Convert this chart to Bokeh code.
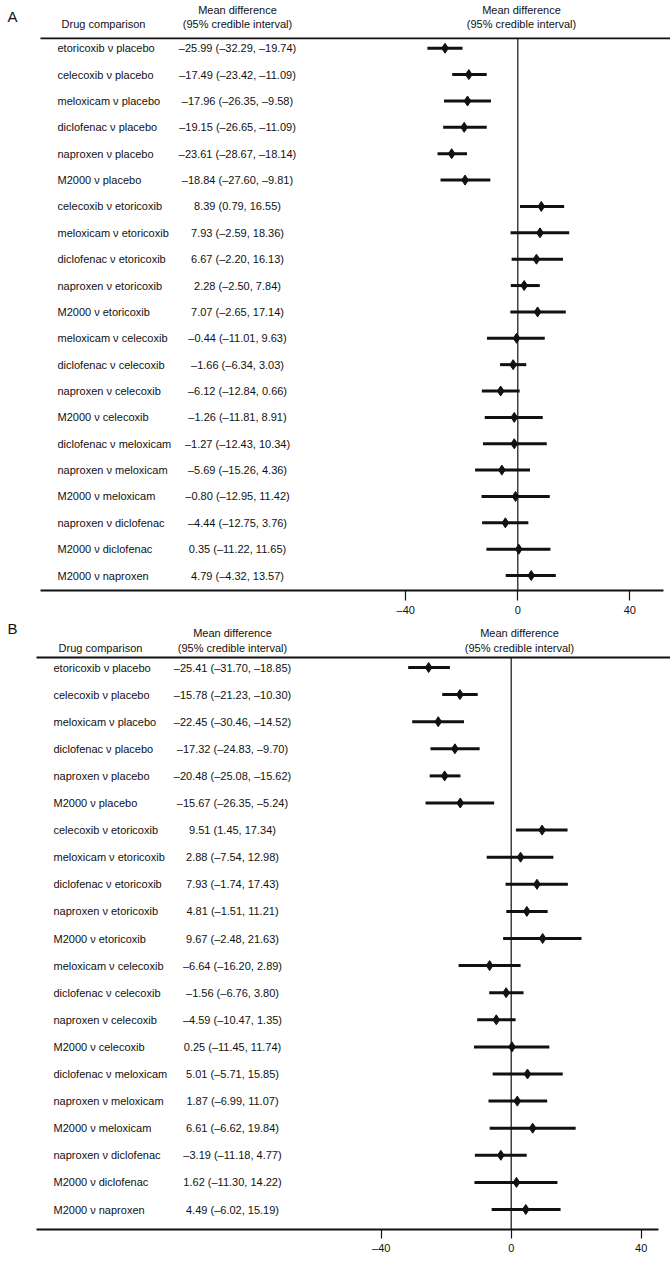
from bokeh.plotting import figure
from bokeh.models import Range1d, FixedTicker
from bokeh.layouts import column
from bokeh.embed import file_html
from bokeh.resources import INLINE
from bokeh.core.properties import value

# ---------------- data ----------------
comparisons = [
    "etoricoxib ν placebo", "celecoxib ν placebo", "meloxicam ν placebo",
    "diclofenac ν placebo", "naproxen ν placebo", "M2000 ν placebo",
    "celecoxib ν etoricoxib", "meloxicam ν etoricoxib", "diclofenac ν etoricoxib",
    "naproxen ν etoricoxib", "M2000 ν etoricoxib", "meloxicam ν celecoxib",
    "diclofenac ν celecoxib", "naproxen ν celecoxib", "M2000 ν celecoxib",
    "diclofenac ν meloxicam", "naproxen ν meloxicam", "M2000 ν meloxicam",
    "naproxen ν diclofenac", "M2000 ν diclofenac", "M2000 ν naproxen",
]

a_mean = [-25.99, -17.49, -17.96, -19.15, -23.61, -18.84, 8.39, 7.93, 6.67, 2.28, 7.07,
          -0.44, -1.66, -6.12, -1.26, -1.27, -5.69, -0.80, -4.44, 0.35, 4.79]
a_low = [-32.29, -23.42, -26.35, -26.65, -28.67, -27.60, 0.79, -2.59, -2.20, -2.50, -2.65,
         -11.01, -6.34, -12.84, -11.81, -12.43, -15.26, -12.95, -12.75, -11.22, -4.32]
a_high = [-19.74, -11.09, -9.58, -11.09, -18.14, -9.81, 16.55, 18.36, 16.13, 7.84, 17.14,
          9.63, 3.03, 0.66, 8.91, 10.34, 4.36, 11.42, 3.76, 11.65, 13.57]

b_mean = [-25.41, -15.78, -22.45, -17.32, -20.48, -15.67, 9.51, 2.88, 7.93, 4.81, 9.67,
          -6.64, -1.56, -4.59, 0.25, 5.01, 1.87, 6.61, -3.19, 1.62, 4.49]
b_low = [-31.70, -21.23, -30.46, -24.83, -25.08, -26.35, 1.45, -7.54, -1.74, -1.51, -2.48,
         -16.20, -6.76, -10.47, -11.45, -5.71, -6.99, -6.62, -11.18, -11.30, -6.02]
b_high = [-18.85, -10.30, -14.52, -9.70, -15.62, -5.24, 17.34, 12.98, 17.43, 11.21, 21.63,
          2.89, 3.80, 1.35, 11.74, 15.85, 11.07, 19.84, 4.77, 14.22, 15.19]

tick_values = [-40, 0, 40]
tick_labels = ["–40", "0", "40"]
header_comparison = "Drug comparison"
header_md = ["Mean difference", "(95% credible interval)"]
panel_letters = ["A", "B"]

FONT = "Liberation Sans"
INK = "#111111"
W = 670


def fmt(v):
    return f"{v:.2f}".replace("-", "–")


def make_panel(letter, means, lows, highs, g):
    zero, k = g["zero"], g["k"]
    row0, sp = g["row0"], g["sp"]

    def X(px):
        return (px - zero) / k

    def Y(py):
        return (py - row0) / sp

    p = figure(width=W, height=g["height"], output_backend="svg", toolbar_location=None,
               x_range=Range1d(X(0), X(W)),
               y_range=Range1d(Y(g["axis"]), Y(g["top"])),
               y_axis_location=None, min_border_left=0, min_border_right=0,
               min_border_top=0, min_border_bottom=g["mbb"],
               outline_line_color=None)
    p.grid.visible = False

    rows = list(range(len(comparisons)))
    n = len(rows)

    # header rule and zero line
    p.segment(x0=[X(g["rule_x0"])], x1=[X(W)], y0=[Y(g["rule"])], y1=[Y(g["rule"])],
              line_color=INK, line_width=1.8)
    p.segment(x0=[0], x1=[0], y0=[Y(g["rule"])], y1=[Y(g["axis"])],
              line_color=INK, line_width=1.2)

    # intervals and point estimates
    p.segment(x0=lows, x1=highs, y0=rows, y1=rows, line_color=INK, line_width=3)
    p.scatter(x=means, y=rows, marker="diamond", size=10, fill_color=INK, line_color=INK)

    # text columns
    p.text(x=[X(g["label_x"])] * n, y=rows, text=comparisons, text_font=value(FONT),
           text_font_size="11px", text_baseline="middle", text_align="left", text_color=INK)
    val_text = [f"{fmt(m)} ({fmt(lo)}, {fmt(hi)})" for m, lo, hi in zip(means, lows, highs)]
    p.text(x=[X(g["val_x"])] * n, y=rows, text=val_text, text_font=value(FONT),
           text_font_size="11px", text_baseline="middle", text_align="center", text_color=INK)

    # headers
    p.text(x=[X(g["dc_x"])], y=[Y(g["h2"])], text=[header_comparison], text_font=value(FONT),
           text_font_size="11px", text_baseline="middle", text_align="center", text_color=INK)
    for hx in (g["val_x"], g["hr_x"]):
        p.text(x=[X(hx)] * 2, y=[Y(g["h1"]), Y(g["h2"])], text=header_md,
               text_font=value(FONT), text_font_size="11px", text_baseline="middle",
               text_align="center", text_color=INK)
    p.text(x=[X(g["let_x"])], y=[Y(g["let_y"])], text=[letter], text_font=value(FONT),
           text_font_size="15px", text_baseline="middle", text_align="center", text_color=INK)

    ax = p.xaxis[0]
    ax.ticker = FixedTicker(ticks=tick_values)
    ax.major_label_overrides = dict(zip(tick_values, tick_labels))
    ax.bounds = (X(g["rule_x0"]), X(g["axis_x1"]))
    ax.axis_line_color = INK
    ax.axis_line_width = 1.8
    ax.major_tick_line_color = INK
    ax.major_tick_line_width = 1.2
    ax.major_tick_in = 0
    ax.major_tick_out = g["tick"]
    ax.minor_tick_line_color = None
    ax.major_label_standoff = 3
    ax.major_label_text_font = FONT
    ax.major_label_text_font_size = "11px"
    ax.major_label_text_color = INK
    return p


geoA = dict(zero=517.3, k=2.8, row0=48, sp=26.5, top=0, axis=593, height=618, mbb=25,
            rule=38, rule_x0=40, axis_x1=663, label_x=57, val_x=237, dc_x=103, hr_x=521,
            h1=10, h2=24, let_x=12, let_y=16, tick=10)
geoB = dict(zero=510.7, k=3.25, row0=667, sp=27.1, top=618, axis=1229, height=643, mbb=32,
            rule=657, rule_x0=36, axis_x1=658, label_x=53, val_x=232, dc_x=100, hr_x=519,
            h1=632, h2=647, let_x=12, let_y=628, tick=9)

pA = make_panel(panel_letters[0], a_mean, a_low, a_high, geoA)
pB = make_panel(panel_letters[1], b_mean, b_low, b_high, geoB)

layout = column(pA, pB, spacing=0)
open("out.html", "w").write(file_html(layout, INLINE))
